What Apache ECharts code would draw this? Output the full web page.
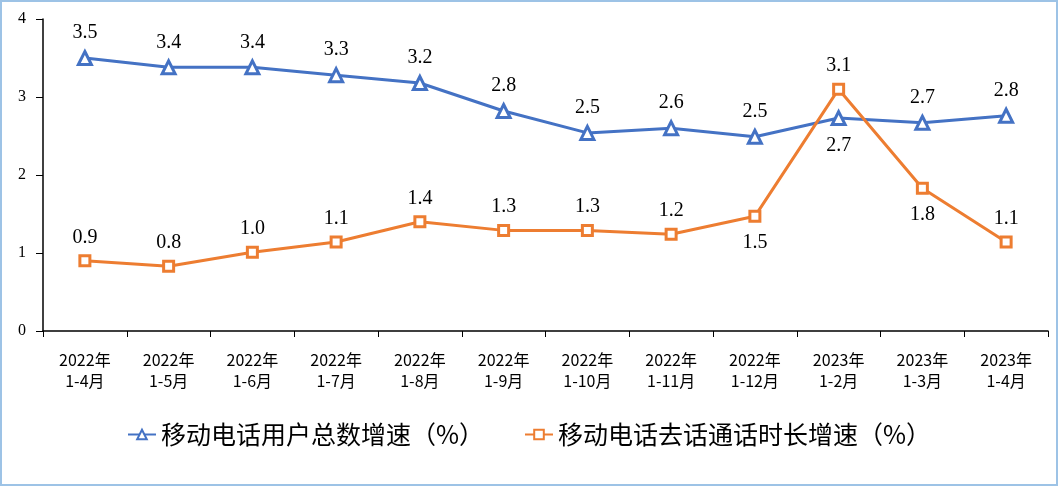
<!DOCTYPE html>
<html>
<head>
<meta charset="utf-8">
<script src="https://cdn.jsdelivr.net/npm/echarts@6/dist/echarts.min.js"></script>
<style>
  html, body { margin: 0; padding: 0; background: #fff; }
  #chart { width: 1058px; height: 486px; box-sizing: border-box; border: 2px solid #9DC3E6; }
</style>
</head>
<body>
<div id="chart"></div>
<script>
// 类目与数据
const categories = ['2022年\n1-4月', '2022年\n1-5月', '2022年\n1-6月', '2022年\n1-7月', '2022年\n1-8月', '2022年\n1-9月',
  '2022年\n1-10月', '2022年\n1-11月', '2022年\n1-12月', '2023年\n1-2月', '2023年\n1-3月', '2023年\n1-4月']
const userGrowth = [3.50, 3.38, 3.38, 3.28, 3.18, 2.82, 2.54, 2.60, 2.49, 2.73, 2.67, 2.76]
const callGrowth = [0.90, 0.83, 1.01, 1.14, 1.40, 1.29, 1.29, 1.24, 1.47, 3.10, 1.83, 1.14]
// 标签放在下方的点
const userBelow = [9]
const callBelow = [8, 10]

const blue = '#4472C4'
const orange = '#ED7D31'
const labelFont = { fontFamily: 'Liberation Serif', fontSize: 20, color: '#000' }

const buildData = (values, below) => values.map((v, i) => ({
  value: v,
  label: { position: below.includes(i) ? 'bottom' : 'top', distance: below.includes(i) ? 10 : 7 }
}))

const chart = echarts.init(document.getElementById('chart'))
chart.setOption({
  animation: false,
  grid: { left: 41, right: 8, top: 17, bottom: 153 },
  legend: {
    bottom: 32,
    left: 'center',
    itemWidth: 28,
    itemHeight: 12,
    itemGap: 40,
    textStyle: { fontFamily: 'Noto Sans CJK SC', fontSize: 25, color: '#000' },
    data: ['移动电话用户总数增速（%）', '移动电话去话通话时长增速（%）']
  },
  xAxis: {
    type: 'category',
    data: categories,
    boundaryGap: true,
    axisLine: { lineStyle: { color: '#000', width: 1.5 } },
    axisTick: { show: true, length: 6, lineStyle: { color: '#000' } },
    axisLabel: { fontFamily: 'Noto Sans CJK SC', fontSize: 16, color: '#000', lineHeight: 21, margin: 18, interval: 0 }
  },
  yAxis: {
    type: 'value',
    min: 0,
    max: 4,
    interval: 1,
    splitLine: { show: false },
    axisLine: { show: true, lineStyle: { color: '#000', width: 1.5 } },
    axisTick: { show: true, length: 7, lineStyle: { color: '#000' } },
    axisLabel: { fontFamily: 'Liberation Serif', fontSize: 16, color: '#000', margin: 17 }
  },
  series: [
    {
      name: '移动电话用户总数增速（%）',
      type: 'line',
      data: buildData(userGrowth, userBelow),
      symbol: 'triangle',
      symbolSize: 13,
      color: blue,
      lineStyle: { color: blue, width: 3 },
      itemStyle: { color: '#fff', borderColor: blue, borderWidth: 3 },
      label: { show: true, ...labelFont, formatter: p => p.value.toFixed(1) }
    },
    {
      name: '移动电话去话通话时长增速（%）',
      type: 'line',
      data: buildData(callGrowth, callBelow),
      symbol: 'rect',
      symbolSize: 10,
      color: orange,
      lineStyle: { color: orange, width: 3 },
      itemStyle: { color: '#fff', borderColor: orange, borderWidth: 3 },
      label: { show: true, ...labelFont, formatter: p => p.value.toFixed(1) }
    }
  ]
})
</script>
</body>
</html>
